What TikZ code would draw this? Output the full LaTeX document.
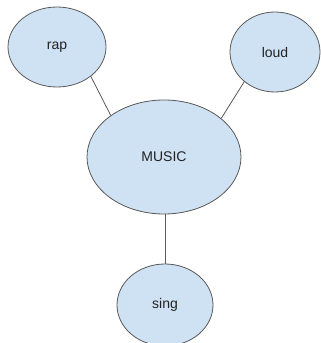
\documentclass[tikz,border=0pt]{standalone}
\usepackage{fontspec}
\setmainfont{Liberation Sans}
\usetikzlibrary{shapes.geometric}
\definecolor{fillblue}{HTML}{CFE2F3}
\definecolor{edgegray}{HTML}{595959}
\definecolor{textgray}{HTML}{222222}
\begin{document}
\begin{tikzpicture}[x=1pt,y=1pt,
  bubble/.style={ellipse, draw=edgegray, fill=fillblue, line width=0.8pt, inner sep=0pt, text=textgray, font=\fontsize{14}{16}\selectfont},
  link/.style={draw=edgegray, line width=0.8pt}]
\useasboundingbox (0,0) rectangle (321,343);
\path[clip] (0,0) rectangle (321,343);
\node[bubble, minimum width=98pt, minimum height=80pt] (rap) at (57,296) {rap};
\node[bubble, minimum width=90pt, minimum height=80pt] (loud) at (275,291) {loud};
\node[bubble, minimum width=154pt, minimum height=114pt] (music) at (164,186) {MUSIC};
\node[bubble, minimum width=96pt, minimum height=82pt] (sing) at (165,38) {sing};
\draw[link] (rap.-41) -- (music.142);
\draw[link] (loud.224) -- (music.34);
\draw[link] (sing.north |- music.south) -- (sing.north);
\end{tikzpicture}
\end{document}
